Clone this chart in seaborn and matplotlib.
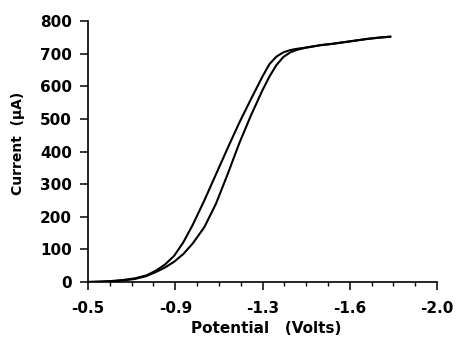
import numpy as np
import pandas as pd
import matplotlib
matplotlib.use("Agg")
import matplotlib.pyplot as plt
import seaborn as sns

# ---- data ----
scan_a_potential = [-0.50, -0.55, -0.60, -0.65, -0.70, -0.75, -0.79, -0.83, -0.87, -0.91,
                    -0.95, -1.00, -1.05, -1.10, -1.15, -1.20, -1.25, -1.28, -1.31, -1.34,
                    -1.37, -1.40, -1.45, -1.50, -1.55, -1.60, -1.65, -1.70, -1.75, -1.80]
scan_a_current = [0, 1, 3, 6, 11, 20, 34, 53, 80, 122,
                  175, 250, 330, 410, 488, 560, 630, 668, 691, 704,
                  711, 715, 720, 726, 730, 735, 740, 745, 749, 752]

scan_b_potential = [-0.50, -0.55, -0.60, -0.65, -0.70, -0.75, -0.79, -0.83, -0.87, -0.91,
                    -0.95, -1.00, -1.05, -1.10, -1.15, -1.20, -1.25, -1.28, -1.31, -1.34,
                    -1.37, -1.40, -1.43, -1.45, -1.50, -1.55, -1.60, -1.65, -1.70, -1.75, -1.80]
scan_b_current = [0, 1, 2, 5, 9, 18, 30, 44, 62, 86,
                  118, 168, 240, 330, 425, 510, 588, 630, 665, 690,
                  704, 712, 717, 720, 726, 730, 735, 740, 745, 749, 752]

x_ticks = [-0.5, -0.875, -1.25, -1.625, -2.0]
x_tick_labels = ["-0.5", "-0.9", "-1.3", "-1.6", "-2.0"]
y_ticks = [0, 100, 200, 300, 400, 500, 600, 700, 800]
x_label = "Potential   (Volts)"
y_label = "Current  (\u00b5A)"

df = pd.concat([
    pd.DataFrame({"Potential": scan_a_potential, "Current": scan_a_current, "scan": "a"}),
    pd.DataFrame({"Potential": scan_b_potential, "Current": scan_b_current, "scan": "b"}),
], ignore_index=True)

sns.set_style("ticks")
plt.rcParams["font.family"] = ["DejaVu Sans"]
plt.rcParams["text.color"] = "black"
plt.rcParams["axes.labelcolor"] = "black"
plt.rcParams["xtick.color"] = "black"
plt.rcParams["ytick.color"] = "black"

fig = plt.figure(figsize=(4.57, 3.41), dpi=100)
ax = fig.add_axes([88 / 457, 1 - 282 / 341, (437 - 88) / 457, (282 - 21) / 341])

sns.lineplot(data=df, x="Potential", y="Current", hue="scan",
             palette=["black", "black"], legend=False, ax=ax,
             linewidth=1.5, estimator=None, sort=False)

ax.set_xlim(-0.5, -2.0)
ax.set_ylim(0, 800)
ax.set_xticks(x_ticks)
ax.set_xticklabels(x_tick_labels)
ax.set_xticks([-0.5 - 0.09375 * k for k in range(17) if k % 4 != 0], minor=True)
ax.set_yticks(y_ticks)
ax.set_yticklabels([str(v) for v in y_ticks])

for lab in ax.get_xticklabels() + ax.get_yticklabels():
    lab.set_fontweight("bold")
    lab.set_fontsize(11)
    lab.set_color("black")

ax.tick_params(axis="both", which="major", direction="out", length=5.5, width=1.1,
               color="black")
ax.tick_params(axis="x", which="major", pad=8)
ax.tick_params(axis="y", which="major", pad=6)
ax.tick_params(axis="x", which="minor", direction="out", length=3, width=1.0,
               color="black")

for s in ["left", "bottom"]:
    ax.spines[s].set_linewidth(1.2)
    ax.spines[s].set_color("black")
sns.despine(ax=ax)

ax.set_xlabel(x_label, fontsize=11, fontweight="bold", color="black")
ax.set_ylabel(y_label, fontsize=10, fontweight="bold", color="black")
ax.xaxis.set_label_coords(0.51, -0.15)
ax.yaxis.set_label_coords(-0.18, 0.53)

fig.savefig("out.png", dpi=100)
